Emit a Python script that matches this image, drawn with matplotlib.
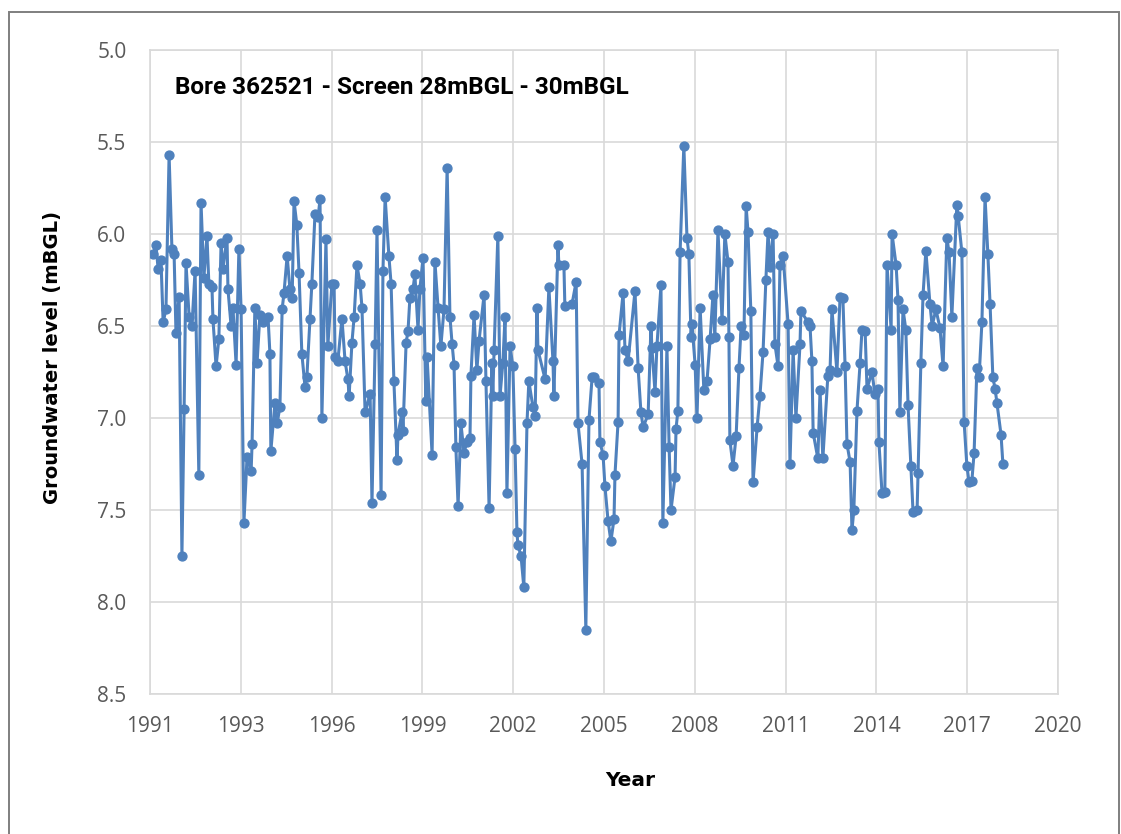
import matplotlib
matplotlib.use("Agg")
import matplotlib.pyplot as plt
from matplotlib.patches import Rectangle

# sampling dates (decimal years) and depth to water (mBGL)
years = [
    1991.10, 1991.19, 1991.26, 1991.35, 1991.42, 1991.51, 1991.61, 1991.70, 1991.77, 1991.83,
    1991.93, 1992.02, 1992.09, 1992.15, 1992.25, 1992.34, 1992.44, 1992.56, 1992.63, 1992.72,
    1992.82, 1992.88, 1992.98, 1993.01, 1993.11, 1993.20, 1993.27, 1993.33, 1993.46, 1993.49,
    1993.59, 1993.65, 1993.75, 1993.84, 1993.91, 1994.00, 1994.10, 1994.23, 1994.26, 1994.35,
    1994.42, 1994.51, 1994.61, 1994.77, 1994.83, 1994.86, 1994.99, 1995.06, 1995.15, 1995.22,
    1995.28, 1995.38, 1995.47, 1995.54, 1995.60, 1995.69, 1995.76, 1995.85, 1995.95, 1996.01,
    1996.11, 1996.17, 1996.27, 1996.37, 1996.43, 1996.49, 1996.62, 1996.68, 1996.81, 1996.88,
    1996.91, 1997.00, 1997.13, 1997.23, 1997.32, 1997.36, 1997.45, 1997.52, 1997.61, 1997.71,
    1997.77, 1997.87, 1998.03, 1998.09, 1998.19, 1998.25, 1998.38, 1998.44, 1998.51, 1998.63,
    1998.70, 1998.79, 1998.89, 1998.92, 1999.05, 1999.08, 1999.18, 1999.24, 1999.30, 1999.40,
    1999.46, 1999.56, 1999.62, 1999.72, 1999.81, 1999.85, 2000.01, 2000.10, 2000.20, 2000.29,
    2000.39, 2000.49, 2000.58, 2000.65, 2000.71, 2000.77, 2000.84, 2000.93, 2001.03, 2001.12,
    2001.22, 2001.25, 2001.35, 2001.44, 2001.51, 2001.67, 2001.73, 2001.83, 2001.92, 2001.95,
    2001.99, 2002.11, 2002.18, 2002.27, 2002.34, 2002.40, 2002.50, 2002.59, 2002.66, 2002.72,
    2002.75, 2002.85, 2002.94, 2003.04, 2003.10, 2003.23, 2003.30, 2003.36, 2003.39, 2003.62,
    2003.74, 2003.87, 2003.90, 2004.03, 2004.06, 2004.22, 2004.25, 2004.48, 2004.61, 2004.67,
    2004.80, 2004.92, 2005.02, 2005.12, 2005.18, 2005.34, 2005.37, 2005.47, 2005.53, 2005.63,
    2005.72, 2005.82, 2005.85, 2005.95, 2005.98, 2006.11, 2006.17, 2006.27, 2006.49, 2006.59,
    2006.68, 2006.75, 2006.91, 2007.00, 2007.03, 2007.13, 2007.19, 2007.32, 2007.38, 2007.51,
    2007.58, 2007.64, 2007.77, 2007.80, 2007.86, 2007.93, 2008.05, 2008.15, 2008.21, 2008.28,
    2008.31, 2008.41, 2008.47, 2008.57, 2008.69, 2008.79, 2008.89, 2008.98, 2009.04, 2009.14,
    2009.27, 2009.36, 2009.46, 2009.49, 2009.52, 2009.62, 2009.72, 2009.81, 2009.88, 2009.97,
    2010.04, 2010.10, 2010.19, 2010.26, 2010.39, 2010.48, 2010.58, 2010.67, 2010.74, 2010.80,
    2010.90, 2010.96, 2011.06, 2011.12, 2011.22, 2011.38, 2011.44, 2011.54, 2011.63, 2011.76,
    2011.79, 2012.02, 2012.08, 2012.14, 2012.18, 2012.33, 2012.40, 2012.49, 2012.65, 2012.72,
    2012.78, 2012.94, 2013.04, 2013.13, 2013.20, 2013.26, 2013.36, 2013.42, 2013.48, 2013.58,
    2013.68, 2013.74, 2013.84, 2013.90, 2014.06, 2014.15, 2014.25, 2014.28, 2014.38, 2014.47,
    2014.54, 2014.67, 2014.70, 2014.83, 2014.89, 2014.95, 2015.05, 2015.14, 2015.21, 2015.30,
    2015.37, 2015.50, 2015.53, 2015.62, 2015.69, 2015.78, 2015.91, 2015.98, 2016.10, 2016.23,
    2016.33, 2016.45, 2016.52, 2016.61, 2016.77, 2016.81, 2016.93, 2017.00, 2017.09, 2017.16,
    2017.25, 2017.32, 2017.41, 2017.48, 2017.57, 2017.67, 2017.76, 2017.83, 2017.92, 2017.99,
    2018.05, 2018.18, 2018.24,
]
levels = [
    6.11, 6.06, 6.19, 6.14, 6.48, 6.41, 5.57, 6.08, 6.11, 6.54,
    6.34, 7.75, 6.95, 6.16, 6.45, 6.50, 6.20, 7.31, 5.83, 6.24,
    6.01, 6.27, 6.29, 6.46, 6.72, 6.57, 6.05, 6.19, 6.02, 6.30,
    6.50, 6.40, 6.71, 6.08, 6.41, 7.57, 7.21, 7.29, 7.14, 6.40,
    6.70, 6.44, 6.48, 6.45, 6.65, 7.18, 6.92, 7.03, 6.94, 6.41,
    6.32, 6.12, 6.30, 6.35, 5.82, 5.95, 6.21, 6.65, 6.83, 6.78,
    6.46, 6.27, 5.89, 5.91, 5.81, 7.00, 6.03, 6.61, 6.27, 6.27,
    6.67, 6.69, 6.46, 6.69, 6.79, 6.88, 6.59, 6.45, 6.17, 6.27,
    6.40, 6.97, 6.87, 7.46, 6.60, 5.98, 7.42, 6.20, 5.80, 6.12,
    6.27, 6.80, 7.23, 7.09, 6.97, 7.07, 6.59, 6.53, 6.35, 6.30,
    6.22, 6.52, 6.30, 6.13, 6.91, 6.67, 7.20, 6.15, 6.40, 6.61,
    6.41, 5.64, 6.45, 6.60, 6.71, 7.16, 7.48, 7.03, 7.19, 7.13,
    7.11, 6.77, 6.44, 6.74, 6.58, 6.33, 6.80, 7.49, 6.70, 6.88,
    6.63, 6.01, 6.88, 6.70, 6.45, 7.41, 6.61, 6.72, 7.17, 7.62,
    7.69, 7.75, 7.92, 7.03, 6.80, 6.94, 6.99, 6.40, 6.63, 6.79,
    6.29, 6.69, 6.88, 6.06, 6.17, 6.17, 6.39, 6.38, 6.26, 7.03,
    7.25, 8.15, 7.01, 6.78, 6.78, 6.81, 7.13, 7.20, 7.37, 7.56,
    7.67, 7.55, 7.31, 7.02, 6.55, 6.32, 6.63, 6.69, 6.31, 6.73,
    6.97, 7.05, 6.98, 6.50, 6.62, 6.86, 6.61, 6.28, 7.57, 6.61,
    7.16, 7.50, 7.32, 7.06, 6.96, 6.10, 5.52, 6.02, 6.11, 6.56,
    6.49, 6.71, 7.00, 6.40, 6.85, 6.80, 6.57, 6.33, 6.56, 5.98,
    6.47, 6.00, 6.15, 6.56, 7.12, 7.26, 7.10, 6.73, 6.50, 6.55,
    5.85, 5.99, 6.42, 7.35, 7.05, 6.88, 6.64, 6.25, 5.99, 6.18,
    6.00, 6.60, 6.72, 6.17, 6.12, 6.49, 7.25, 6.63, 7.00, 6.60,
    6.42, 6.48, 6.50, 6.69, 7.08, 7.22, 6.85, 7.22, 6.77, 6.74,
    6.41, 6.75, 6.34, 6.35, 6.72, 7.14, 7.24, 7.61, 7.50, 6.96,
    6.70, 6.52, 6.53, 6.84, 6.75, 6.87, 6.84, 7.13, 7.41, 7.40,
    6.17, 6.52, 6.00, 6.17, 6.36, 6.97, 6.41, 6.52, 6.93, 7.26,
    7.51, 7.50, 7.30, 6.70, 6.33, 6.09, 6.38, 6.50, 6.41, 6.51,
    6.72, 6.02, 6.10, 6.45, 5.84, 5.90, 6.10, 7.02, 7.26, 7.35,
    7.34, 7.19, 6.73, 6.78, 6.48, 5.80, 6.11, 6.38, 6.78, 6.84,
    6.92, 7.09, 7.25,
]

# axis ticks: major unit is a little under three years
tick_pos = [1991 + 2.9 * k for k in range(11)]
tick_labels = ["1991", "1993", "1996", "1999", "2002", "2005",
               "2008", "2011", "2014", "2017", "2020"]
y_ticks = [5.0, 5.5, 6.0, 6.5, 7.0, 7.5, 8.0, 8.5]

blue = "#4F81BD"
grid = "#D9D9D9"
text_grey = "#595959"

fig = plt.figure(figsize=(11.21, 8.34), dpi=100)
ax = fig.add_axes([0.1338, 0.1679, 0.81, 0.7722])

ax.plot(years, levels, color=blue, lw=2.2, marker="o", ms=6.4,
        markerfacecolor=blue, markeredgecolor=blue, zorder=3)

ax.set_xlim(1991, 2020)
ax.set_ylim(8.5, 5.0)
ax.set_xticks(tick_pos)
ax.set_xticklabels(tick_labels)
ax.set_yticks(y_ticks)
ax.set_yticklabels([f"{v:.1f}" for v in y_ticks])
ax.tick_params(length=0, labelsize=15, labelcolor=text_grey)
ax.tick_params(axis="x", pad=16)
ax.tick_params(axis="y", pad=17)
for lab in ax.get_xticklabels() + ax.get_yticklabels():
    lab.set_fontfamily("Open Sans")

ax.grid(True, color=grid, lw=1.2, zorder=0)
for s in ax.spines.values():
    s.set_color(grid)
    s.set_linewidth(1.2)

ax.set_xlabel("Year", fontsize=14.5, fontweight="bold", va="top")
ax.xaxis.set_label_coords(0.529, -0.119)
ax.set_ylabel("Groundwater level (mBGL)", fontsize=14.1, fontweight="bold")
ax.yaxis.set_label_coords(-0.097, 0.523)

ax.text(0.027, 0.942, "Bore 362521 - Screen 28mBGL - 30mBGL", transform=ax.transAxes,
        fontsize=17.5, fontweight="bold", family="Roboto", ha="left", va="center",
        color="black")

# chart frame
fig.patches.append(Rectangle((9 / 1121, -0.02), 1110 / 1121, 1 - 12 / 834 + 0.02,
                             transform=fig.transFigure, fill=False,
                             edgecolor="#7F7F7F", lw=1.4))

fig.savefig("out.png", dpi=100)
